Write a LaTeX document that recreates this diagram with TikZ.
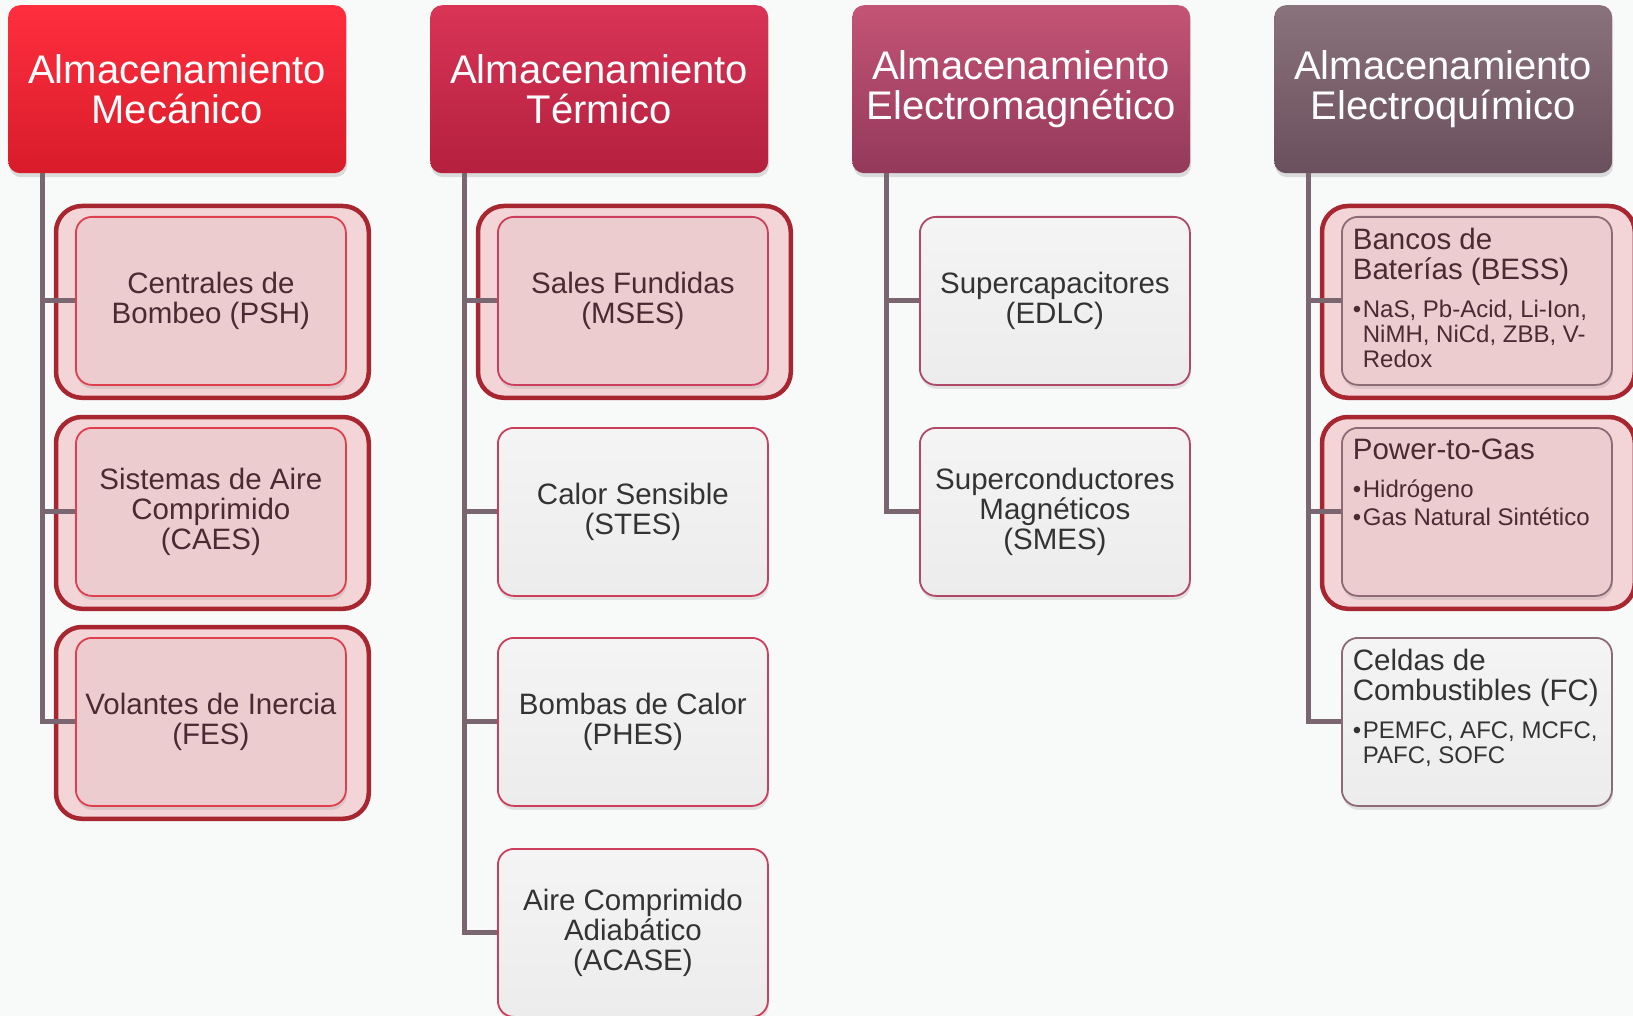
\documentclass[tikz,border=0pt]{standalone}
\usepackage{fontspec}
\setmainfont{Liberation Sans}
\usetikzlibrary{shadows}
\pgfdeclarelayer{back}
\pgfsetlayers{back,main}

\definecolor{pagebg}{HTML}{F8F9F9}
\definecolor{trunkcol}{HTML}{7A6670}
\definecolor{framered}{HTML}{A8262F}
\definecolor{framefill}{HTML}{F3D5D8}
\definecolor{pinkfill}{HTML}{ECCCCF}
\definecolor{pinktext}{HTML}{4A2A33}
\definecolor{graytext}{HTML}{333333}
\definecolor{boxtop}{HTML}{F4F4F4}
\definecolor{boxbot}{HTML}{ECECEC}
\definecolor{mecred}{HTML}{E0404E}
\definecolor{terred}{HTML}{CC3E5C}
\definecolor{emgred}{HTML}{B04868}
\definecolor{eqmauve}{HTML}{8C6A76}
\definecolor{mectop}{HTML}{FF2E3E}
\definecolor{mecbot}{HTML}{D81C2A}
\definecolor{tertop}{HTML}{D93456}
\definecolor{terbot}{HTML}{B4203E}
\definecolor{emgtop}{HTML}{C45476}
\definecolor{emgbot}{HTML}{93395A}
\definecolor{eqtop}{HTML}{8A727C}
\definecolor{eqbot}{HTML}{6A505C}

\tikzset{
	header/.style={anchor=north west, minimum width=338pt, minimum height=168pt,
		rounded corners=12pt, text=white, align=center,
		font=\fontsize{40}{40}\selectfont,
		drop shadow={opacity=.25, shadow xshift=1pt, shadow yshift=-4pt}},
	item/.style={anchor=north west, minimum width=270pt, minimum height=168pt,
		rounded corners=16pt, line width=1.8pt, align=center,
		font=\fontsize{29.5}{30}\selectfont,
		drop shadow={opacity=.2, shadow xshift=1pt, shadow yshift=-4pt}},
	hot/.style={item, fill=pinkfill, text=pinktext, draw=#1},
	cool/.style={item, top color=boxtop, bottom color=boxbot, text=graytext, draw=#1},
	listitem/.style={anchor=north west, inner sep=11pt, rounded corners=16pt, line width=1.8pt,
		drop shadow={opacity=.2, shadow xshift=1pt, shadow yshift=-4pt}},
	frame/.style={draw=framered, line width=4.5pt, fill=framefill, rounded corners=26pt},
	trunk/.style={draw=trunkcol, line width=5pt}
}

% title and bullets at the top of a box
\newcommand{\tbox}[2]{\parbox[c][146pt][t]{248pt}{\raggedright\fontsize{29.5}{30}\selectfont #1\par\vspace{10pt}\fontsize{24}{25}\selectfont #2}}
\newcommand{\bul}[1]{\par\vspace{3pt}\noindent\hangindent=10pt\hangafter=1\makebox[10pt][l]{\textbullet}#1}

\begin{document}
\begin{tikzpicture}[x=1pt, y=-1pt]
	\useasboundingbox (0,0) rectangle (1633,1016);
	\begin{pgfonlayer}{back}
		\fill[pagebg] (0,0) rectangle (1633,1016);
	\end{pgfonlayer}

	% headers
	\node[header, top color=mectop, bottom color=mecbot] (h1) at (8,5) {Almacenamiento\\Mecánico};
	\node[header, top color=tertop, bottom color=terbot] (h2) at (430,5) {Almacenamiento\\Térmico};
	\node[header, top color=emgtop, bottom color=emgbot] (h3) at (852,5) {Almacenamiento\\Electromagnético};
	\node[header, top color=eqtop, bottom color=eqbot] (h4) at (1274,5) {Almacenamiento\\Electroquímico};

	% mecanico
	\node[hot=mecred] (m11) at (75,216) {Centrales de\\Bombeo (PSH)};
	\node[hot=mecred] (m12) at (75,427) {Sistemas de Aire\\Comprimido\\(CAES)};
	\node[hot=mecred] (m13) at (75,637) {Volantes de Inercia\\(FES)};

	% termico
	\node[hot=terred] (m21) at (497,216) {Sales Fundidas\\(MSES)};
	\node[cool=terred] (m22) at (497,427) {Calor Sensible\\(STES)};
	\node[cool=terred] (m23) at (497,637) {Bombas de Calor\\(PHES)};
	\node[cool=terred] (m24) at (497,848) {Aire Comprimido\\Adiabático\\(ACASE)};

	% electromagnetico
	\node[cool=emgred] (m31) at (919,216) {Supercapacitores\\(EDLC)};
	\node[cool=emgred] (m32) at (919,427) {Superconductores\\Magnéticos\\(SMES)};

	% electroquimico
	\node[listitem, fill=pinkfill, text=pinktext, draw=eqmauve] (m41) at (1341,216)
		{\tbox{Bancos de\\Baterías (BESS)}{\bul{NaS, Pb-Acid, Li-Ion,\newline NiMH, NiCd, ZBB, V-\newline Redox}}};
	\node[listitem, fill=pinkfill, text=pinktext, draw=eqmauve] (m42) at (1341,427)
		{\tbox{Power-to-Gas}{\bul{Hidrógeno}\bul{Gas Natural Sintético}}};
	\node[listitem, top color=boxtop, bottom color=boxbot, text=graytext, draw=eqmauve] (m43) at (1341,637)
		{\tbox{Celdas de\\Combustibles (FC)}{\bul{PEMFC, AFC, MCFC,\newline PAFC, SOFC}}};

	% frames round the highlighted items
	\begin{pgfonlayer}{back}
		\foreach \m in {m11,m12,m13,m21,m41,m42}
			\draw[frame] ([shift={(-19pt,10pt)}]\m.north west) rectangle ([shift={(22pt,-12pt)}]\m.south east);
	\end{pgfonlayer}

	% trunks
	\foreach \h/\last in {h1/m13, h2/m24, h3/m32, h4/m43} {
		\coordinate (\h-t) at ([xshift=34pt]\h.south west);
		\draw[trunk] (\h-t) |- (\last.west);
	}
	\foreach \h/\m in {h1/m11, h1/m12, h2/m21, h2/m22, h2/m23, h3/m31, h4/m41, h4/m42}
		\draw[trunk] (\m.west) -- (\m.west -| \h-t);
\end{tikzpicture}
\end{document}
